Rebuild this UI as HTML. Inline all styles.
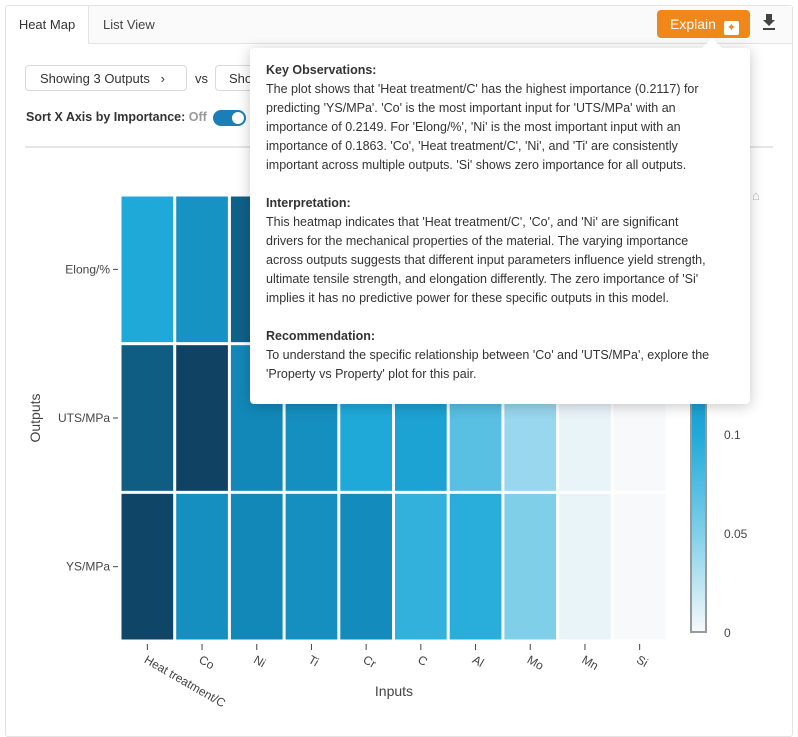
<!DOCTYPE html>
<html><head><meta charset="utf-8">
<style>
body{margin:0;width:798px;height:727px;background:#fff;font-family:"Liberation Sans",sans-serif;position:relative;overflow:hidden;color:#333}
.card{position:absolute;left:5px;top:5px;width:786px;height:730px;border:1px solid #e3e3e3;border-radius:3px}
.tabs{position:absolute;left:0;top:0;width:786px;height:37px;border-bottom:1px solid #e3e3e3;background:#fafafa}
.tab{position:absolute;top:0;height:37px;line-height:37px;font-size:13px;color:#333}
.btn{position:absolute;border:1px solid #d9d9d9;border-radius:4px;height:26px;line-height:26px;font-size:13px;color:#333;background:#fff}
.tip{position:absolute;left:250px;top:48px;width:500px;height:356px;background:#fff;border-radius:4px;box-shadow:0 2px 14px rgba(0,0,0,.22);font-size:12.5px;line-height:19px;color:#333}
.tip b{font-weight:bold}
</style></head><body>
<div class="card">
 <div class="tabs">
  <div class="tab" style="left:0;width:82px;background:#fff;border-right:1px solid #e3e3e3;text-align:center;height:38px">Heat Map</div>
  <div class="tab" style="left:97px;color:#444">List View</div>
 </div>
</div>
<div style="position:absolute;left:657px;top:10px;width:65px;height:28px;background:#f0871a;border-radius:4px;color:#fff;font-size:14px;line-height:28px;padding-left:13px;box-sizing:border-box;width:93px">Explain <span style="display:inline-block;width:15px;height:14px;background:#fff;border-radius:2px;color:#f0871a;font-size:11px;line-height:14px;text-align:center;vertical-align:-2px;margin-left:4px">✦</span></div>
<div style="position:absolute;left:762px;top:13px;font-size:16px;color:#444">
<svg width="14" height="18"><path d="M4 1h6v6h3l-6 6-6-6h3z" fill="#444"/><rect x="1" y="15" width="12" height="2" fill="#444"/></svg></div>
<div class="btn" style="left:25px;top:65px;width:162px;padding-left:14px;box-sizing:border-box">Showing 3 Outputs &nbsp;&nbsp;›</div>
<div style="position:absolute;left:195px;top:71px;font-size:13px">vs</div>
<div class="btn" style="left:215px;top:65px;width:60px;padding-left:13px;box-sizing:border-box">Showing</div>
<div style="position:absolute;left:26px;top:110px;font-size:12.5px;font-weight:bold;color:#333">Sort X Axis by Importance: <span style="color:#999">Off</span></div>
<div style="position:absolute;left:213px;top:110px;width:33px;height:16px;border-radius:8px;background:#1a7fb8"><div style="position:absolute;left:19px;top:2px;width:12px;height:12px;border-radius:6px;background:#fff"></div></div>
<div style="position:absolute;left:25px;top:146px;width:748px;height:2px;background:#e6e6e6"></div>

<svg id="chart" style="position:absolute;left:0;top:0" width="798" height="727"></svg>
<div style="position:absolute;left:752px;top:188px;color:#bbb;font-size:13px">⌂</div>

<div class="tip">
<div style="position:absolute;left:455px;top:-7px;width:14px;height:14px;background:#fff;transform:rotate(45deg)"></div>
<div style="position:absolute;left:16px;top:13px;width:480px">
<b>Key Observations:</b><br>The plot shows that 'Heat treatment/C' has the highest importance (0.2117) for<br>predicting 'YS/MPa'. 'Co' is the most important input for 'UTS/MPa' with an<br>importance of 0.2149. For 'Elong/%', 'Ni' is the most important input with an<br>importance of 0.1863. 'Co', 'Heat treatment/C', 'Ni', and 'Ti' are consistently<br>important across multiple outputs. 'Si' shows zero importance for all outputs.<br><br>
<b>Interpretation:</b><br>This heatmap indicates that 'Heat treatment/C', 'Co', and 'Ni' are significant<br>drivers for the mechanical properties of the material. The varying importance<br>across outputs suggests that different input parameters influence yield strength,<br>ultimate tensile strength, and elongation differently. The zero importance of 'Si'<br>implies it has no predictive power for these specific outputs in this model.<br><br>
<b>Recommendation:</b><br>To understand the specific relationship between 'Co' and 'UTS/MPa', explore the<br>'Property vs Property' plot for this pair.
</div></div>

<script>
const inputs=["Heat treatment/C","Co","Ni","Ti","Cr","C","Al","Mo","Mn","Si"];
const outputs=["Elong/%","UTS/MPa","YS/MPa"];
const elongVals=[0.10,0.135,0.1863,0.13,0.10,0.08,0.05,0.03,0.008,0];
const utsVals=[0.19,0.2149,0.15,0.14,0.10,0.11,0.07,0.04,0.006,0];
const ysVals=[0.2117,0.14,0.15,0.14,0.145,0.09,0.095,0.05,0.006,0];
const cbTicks=[0,0.05,0.1,0.15,0.2];
const rows=[elongVals,utsVals,ysVals];
const NS="http://www.w3.org/2000/svg";
const svg=document.getElementById('chart');
const X0=120,X1=667,Y0=195,Y1=641,zmax=0.2149;
const cw=(X1-X0)/inputs.length, rh=(Y1-Y0)/outputs.length;
const xc=i=>X0+cw*(i+0.5), yc=j=>Y0+rh*(j+0.5);
const stops=[[0,[247,249,251]],[0.05,[128,207,233]],[0.1,[31,169,217]],[0.15,[18,136,185]],[0.2149,[15,66,99]]];
function color(v){for(let k=1;k<stops.length;k++){if(v<=stops[k][0]){const a=stops[k-1],b=stops[k],t=(v-a[0])/(b[0]-a[0]);return 'rgb('+a[1].map((c,i)=>Math.round(c+(b[1][i]-c)*t)).join(',')+')';}}return 'rgb(15,66,99)';}
function el(t,a){const e=document.createElementNS(NS,t);for(const k in a)e.setAttribute(k,a[k]);svg.appendChild(e);return e;}
rows.forEach((r,j)=>r.forEach((v,i)=>{
 const e=el('rect',{x:X0+cw*i+1.5,y:Y0+rh*j+1.5,width:cw-3,height:rh-3,fill:color(v)});
 
 
}));
outputs.forEach((o,j)=>{
 el('line',{x1:113,x2:118,y1:yc(j),y2:yc(j),stroke:'#444'});
 const t=el('text',{x:110,y:yc(j)+4,'text-anchor':'end','font-size':12,fill:'#444','font-family':'Liberation Sans'});t.textContent=o;
 
 
});
inputs.forEach((n,i)=>{
 el('line',{x1:xc(i),x2:xc(i),y1:644,y2:650,stroke:'#444'});
 const t=el('text',{x:xc(i)-4,y:662,'font-size':12,fill:'#444','font-family':'Liberation Sans',transform:'rotate(30 '+(xc(i)-4)+' 662)'});t.textContent=n;
 
 
});
let t=el('text',{x:394,y:696,'text-anchor':'middle','font-size':14,fill:'#444','font-family':'Liberation Sans'});t.textContent='Inputs';

t=el('text',{x:40,y:418,'text-anchor':'middle','font-size':14,fill:'#444','font-family':'Liberation Sans',transform:'rotate(-90 40 418)'});t.textContent='Outputs';

// colorbar
const CB0=632,cbScale=99/0.05,cbTop=CB0-zmax*cbScale;
const defs=el('defs',{});const g=document.createElementNS(NS,'linearGradient');g.setAttribute('id','cbg');g.setAttribute('x1',0);g.setAttribute('x2',0);g.setAttribute('y1',1);g.setAttribute('y2',0);defs.appendChild(g);
stops.forEach(s=>{const st=document.createElementNS(NS,'stop');st.setAttribute('offset',s[0]/zmax);st.setAttribute('stop-color',color(s[0]));g.appendChild(st);});
const cb=el('rect',{x:691,y:cbTop,width:15,height:CB0-cbTop,fill:'url(#cbg)',stroke:'#999','stroke-width':2});

cbTicks.forEach(v=>{const y=CB0-v*cbScale;const tt=el('text',{x:724,y:y+5,'font-size':12,fill:'#444','font-family':'Liberation Sans'});tt.textContent=String(v);
 });
</script>
</body></html>
